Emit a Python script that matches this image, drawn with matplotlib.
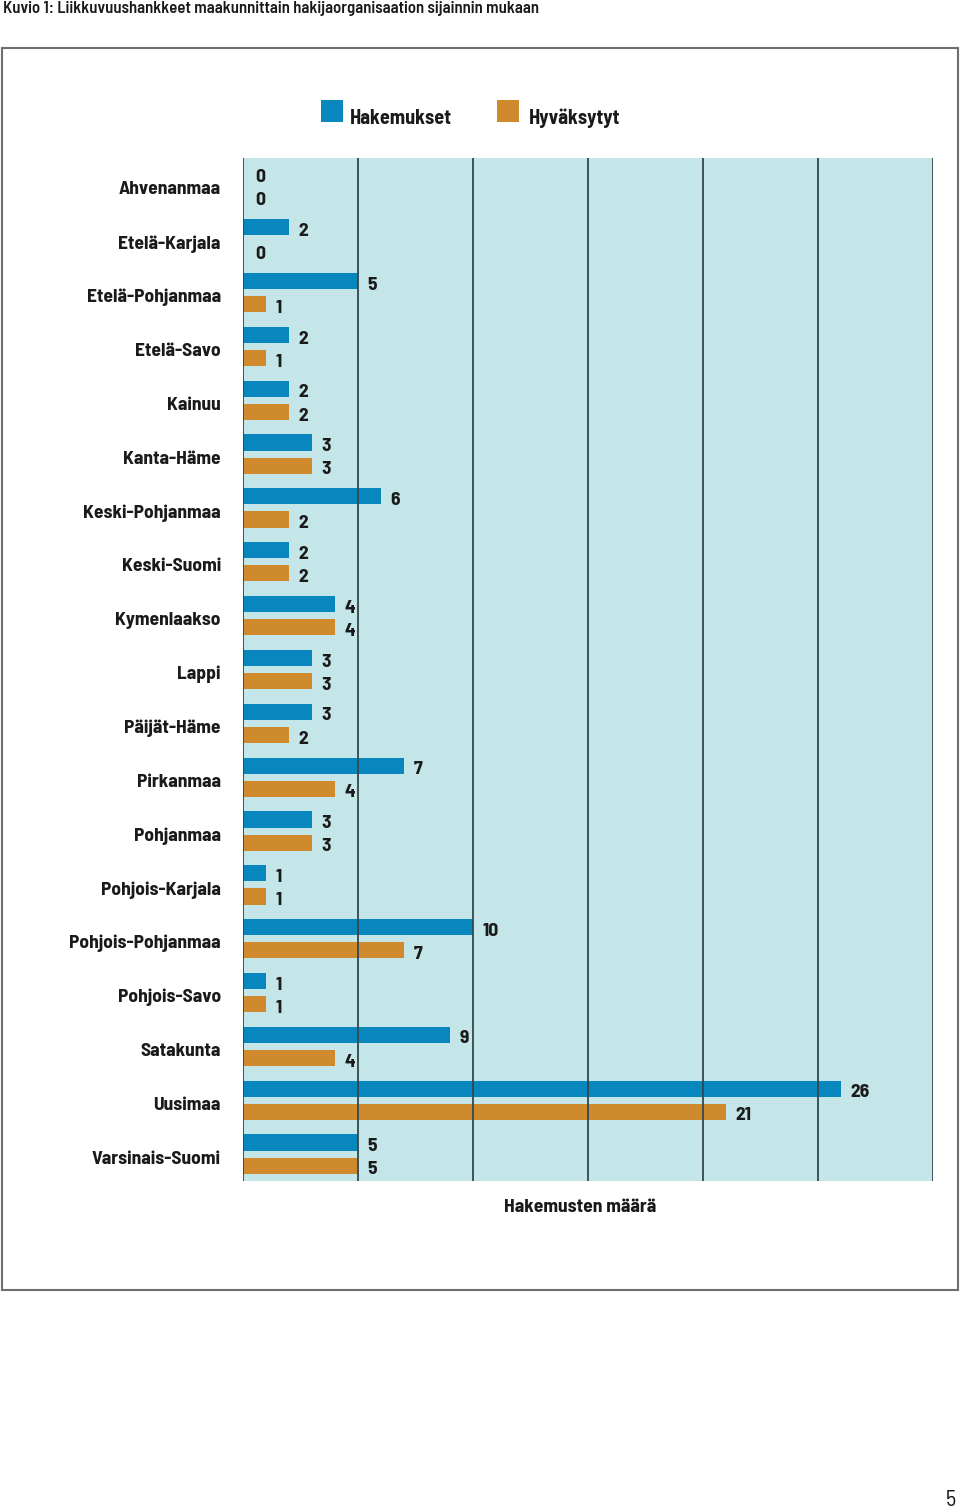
import matplotlib.pyplot as plt
from matplotlib.patches import Rectangle
from matplotlib.transforms import ScaledTranslation
import numpy as np

plt.rcParams['font.family'] = ['Barlow Semi Condensed', 'DejaVu Sans']

regions = ["Ahvenanmaa", "Etelä-Karjala", "Etelä-Pohjanmaa", "Etelä-Savo", "Kainuu",
           "Kanta-Häme", "Keski-Pohjanmaa", "Keski-Suomi", "Kymenlaakso", "Lappi",
           "Päijät-Häme", "Pirkanmaa", "Pohjanmaa", "Pohjois-Karjala", "Pohjois-Pohjanmaa",
           "Pohjois-Savo", "Satakunta", "Uusimaa", "Varsinais-Suomi"]
hakemukset = [0, 2, 5, 2, 2, 3, 6, 2, 4, 3, 3, 7, 3, 1, 10, 1, 9, 26, 5]
hyvaksytyt = [0, 0, 1, 1, 2, 3, 2, 2, 4, 3, 2, 4, 3, 1, 7, 1, 4, 21, 5]

blue = "#0787bd"
orange = "#d08a2e"
bg = "#c5e6e8"
grid_col = "#33474c"
txt_col = "#1a1a1a"

W, H = 960, 1512
fig = plt.figure(figsize=(W / 100, H / 100), dpi=100)

# outer frame
fig.patches.append(Rectangle((2 / W, 1 - 1290 / H), 956 / W, 1242 / H,
                             transform=fig.transFigure, fill=False,
                             edgecolor="#6e6e6e", linewidth=1.5))

fig.text(3 / W, 1 - 9 / H, "Kuvio 1: Liikkuvuushankkeet maakunnittain hakijaorganisaation sijainnin mukaan",
         fontsize=12, fontweight="semibold", color=txt_col, va="center", ha="left")

ax = fig.add_axes([243 / W, 1 - 1181 / H, 690 / W, 1023 / H])
ax.set_facecolor(bg)

y = np.arange(len(regions))
h = 0.30
off = 0.215
ax.barh(y - off, hakemukset, height=h, color=blue, zorder=3)
ax.barh(y + off, hyvaksytyt, height=h, color=orange, zorder=3)

for yi, v in zip(y, hakemukset):
    ax.annotate(str(v), (v, yi - off), xytext=(7 if v else 9, -3), textcoords="offset points",
                va="center", ha="left", fontsize=14, fontweight="bold", color=txt_col)
for yi, v in zip(y, hyvaksytyt):
    ax.annotate(str(v), (v, yi + off), xytext=(7 if v else 9, -3), textcoords="offset points",
                va="center", ha="left", fontsize=14, fontweight="bold", color=txt_col)

ax.set_xlim(0, 30)
ax.set_ylim(len(regions) - 0.5, -0.5)
for gx in range(0, 31, 5):
    ax.axvline(gx, color=grid_col, linewidth=1.3, zorder=4)
for s in ax.spines.values():
    s.set_visible(False)

ax.set_xticks([])
ax.set_yticks(y)
ax.set_yticklabels(regions, fontsize=14, fontweight="bold", color=txt_col)
ax.tick_params(axis="y", length=0, pad=16)
shift = ScaledTranslation(0, -3 / 100, fig.dpi_scale_trans)
for lbl in ax.get_yticklabels():
    lbl.set_transform(lbl.get_transform() + shift)

fig.text(580 / W, 1 - 1207 / H, "Hakemusten määrä", fontsize=14, fontweight="bold",
         color=txt_col, va="center", ha="center")

# legend
fig.patches.append(Rectangle((321 / W, 1 - 122 / H), 22 / W, 22 / H, transform=fig.transFigure,
                             facecolor=blue, edgecolor="none"))
fig.text(350 / W, 1 - 118 / H, "Hakemukset", fontsize=14.5, fontweight="bold",
         color=txt_col, va="center", ha="left")
fig.patches.append(Rectangle((497 / W, 1 - 122 / H), 22 / W, 22 / H, transform=fig.transFigure,
                             facecolor=orange, edgecolor="none"))
fig.text(529 / W, 1 - 118 / H, "Hyväksytyt", fontsize=14.5, fontweight="bold",
         color=txt_col, va="center", ha="left")

fig.text(956 / W, 1 - 1501 / H, "5", fontsize=16, color=txt_col, va="center", ha="right")

fig.savefig("out.png", dpi=100)
